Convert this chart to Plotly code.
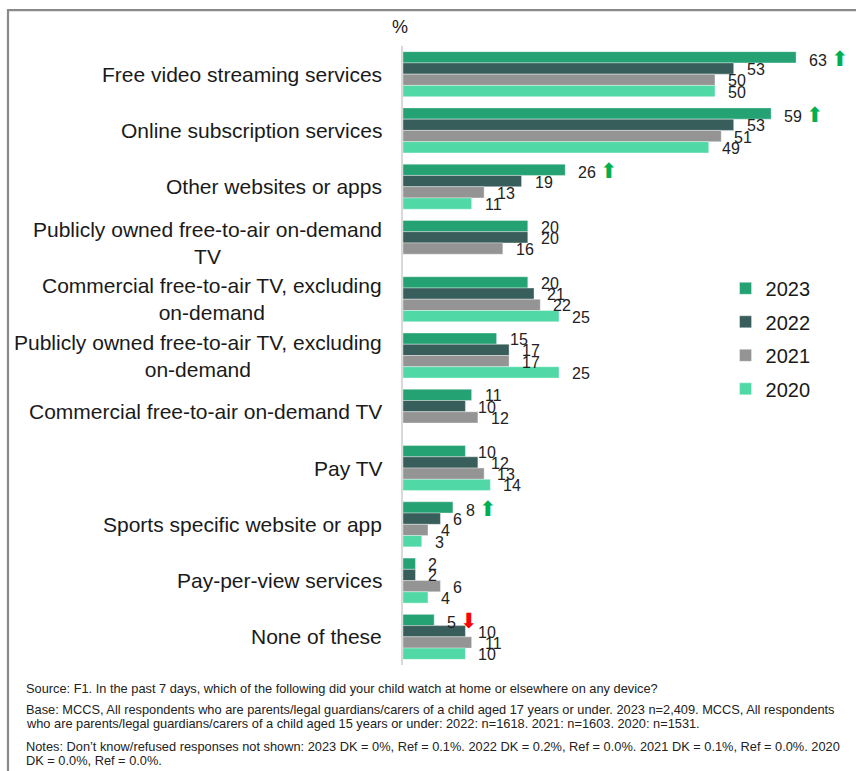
import plotly.graph_objects as go

# Categories (top to bottom) and the label text shown beside each group
categories = [
    "Free video streaming services",
    "Online subscription services",
    "Other websites or apps",
    "Publicly owned free-to-air on-demand TV",
    "Commercial free-to-air TV, excluding on-demand",
    "Publicly owned free-to-air TV, excluding on-demand",
    "Commercial free-to-air on-demand TV",
    "Pay TV",
    "Sports specific website or app",
    "Pay-per-view services",
    "None of these",
]
category_labels = [
    "Free video streaming services",
    "Online subscription services",
    "Other websites or apps",
    "Publicly owned free-to-air on-demand<br>TV",
    "Commercial free-to-air TV, excluding<br>on-demand",
    "Publicly owned free-to-air TV, excluding<br>on-demand",
    "Commercial free-to-air on-demand TV",
    "Pay TV",
    "Sports specific website or app",
    "Pay-per-view services",
    "None of these",
]

years = ["2023", "2022", "2021", "2020"]
v2023 = [63, 59, 26, 20, 20, 15, 11, 10, 8, 2, 5]
v2022 = [53, 53, 19, 20, 21, 17, 10, 12, 6, 2, 10]
v2021 = [50, 51, 13, 16, 22, 17, 12, 13, 4, 6, 11]
v2020 = [50, 49, 11, None, 25, 25, None, 14, 3, 4, 10]
series_values = [v2023, v2022, v2021, v2020]

# Significant change in 2023 vs 2022
change_2023 = ["up", "up", "up", "", "", "", "", "", "up", "", "down"]

footnote_lines = [
    "Source: F1. In the past 7 days, which of the following did your child watch at home or elsewhere on any device?",
    "Base: MCCS, All respondents who are parents/legal guardians/carers of a child aged 17 years or under. 2023 n=2,409. MCCS, All respondents",
    "who are parents/legal guardians/carers of a child aged 15 years or under: 2022: n=1618. 2021: n=1603. 2020: n=1531.",
    "Notes: Don\u2019t know/refused responses not shown: 2023 DK = 0%, Ref = 0.1%. 2022 DK = 0.2%, Ref = 0.0%. 2021 DK = 0.1%, Ref = 0.0%. 2020",
    "DK = 0.0%, Ref = 0.0%.",
]

colors = ["#25a274", "#385e5b", "#949494", "#50d9a6"]
FONT = "Arial, Liberation Sans, sans-serif"

fig = go.Figure()
for year, vals, col in zip(years, series_values, colors):
    fig.add_trace(go.Bar(
        y=categories, x=vals, name=year, orientation="h", legendgroup=year,
        marker=dict(color=col, line=dict(color="rgba(255,255,255,0.6)", width=0.6)),
        hoverinfo="x+y+name",
    ))

annotations = []

# value labels, one per bar slot inside each group
n_series = len(years)
slot = 0.8 / n_series
UP = " <span style='color:#00b050;font-size:21px'>\u2b06</span>"
DOWN = " <span style='color:#ff0000;font-size:21px'>\u2b07</span>"
for k, vals in enumerate(series_values):
    offset = -0.4 + slot * (k + 0.5)
    for i, v in enumerate(vals):
        if v is None:
            continue
        text = str(v)
        if k == 0 and change_2023[i] == "up":
            text += UP
        elif k == 0 and change_2023[i] == "down":
            text += DOWN
        annotations.append(dict(
            x=v, y=i + offset, xref="x", yref="y", text=text, showarrow=False,
            xanchor="left", yanchor="middle", xshift=11, yshift=-1,
            font=dict(family=FONT, size=16, color="#222222"),
        ))

# category labels, centred multi-line text against the axis
for i, lab in enumerate(category_labels):
    annotations.append(dict(
        x=0, y=i, xref="paper", yref="y", text=lab, showarrow=False,
        xanchor="right", yanchor="middle", align="center", xshift=-19,
        font=dict(family=FONT, size=21, color="#1a1a1a"),
    ))

# unit marker above the axis
annotations.append(dict(
    x=-0.007, y=1.031, xref="paper", yref="paper", text="%", showarrow=False,
    xanchor="center", yanchor="middle", font=dict(family=FONT, size=18, color="#1a1a1a"),
))

# footnotes, one line each
footnote_y = [-0.0372, -0.0711, -0.0937, -0.1309, -0.1535]
for txt, ypos in zip(footnote_lines, footnote_y):
    annotations.append(dict(
        x=-0.8366, y=ypos, xref="paper", yref="paper", text=txt, showarrow=False,
        xanchor="left", yanchor="middle", align="left",
        font=dict(family=FONT, size=12.8, color="#222222"),
    ))

fig.update_layout(
    width=856, height=771,
    margin=dict(l=403, r=0, t=46, b=106),
    paper_bgcolor="white", plot_bgcolor="white",
    barmode="group", bargap=0.2, bargroupgap=0,
    font=dict(family=FONT, color="#1a1a1a"),
    xaxis=dict(range=[0, 72.6], showgrid=False, zeroline=False, showticklabels=False,
               ticks="", showline=False, fixedrange=True),
    yaxis=dict(type="category", range=[10.5, -0.5], showgrid=False, zeroline=False,
               showticklabels=False, ticks="", showline=True, linecolor="#d9d9d9",
               linewidth=1.5, fixedrange=True),
    legend=dict(x=0.712, y=0.64, xanchor="left", yanchor="top",
                font=dict(family=FONT, size=20, color="#1a1a1a"),
                bgcolor="rgba(0,0,0,0)", traceorder="grouped", tracegroupgap=4.5),
    annotations=annotations,
    shapes=[dict(type="rect", xref="paper", yref="paper",
                 x0=-0.872, x1=1.2, y0=-0.35, y1=1.058,
                 line=dict(color="#8a8a8a", width=2.2), layer="below")],
    showlegend=True,
)

fig.write_html("out.html")
